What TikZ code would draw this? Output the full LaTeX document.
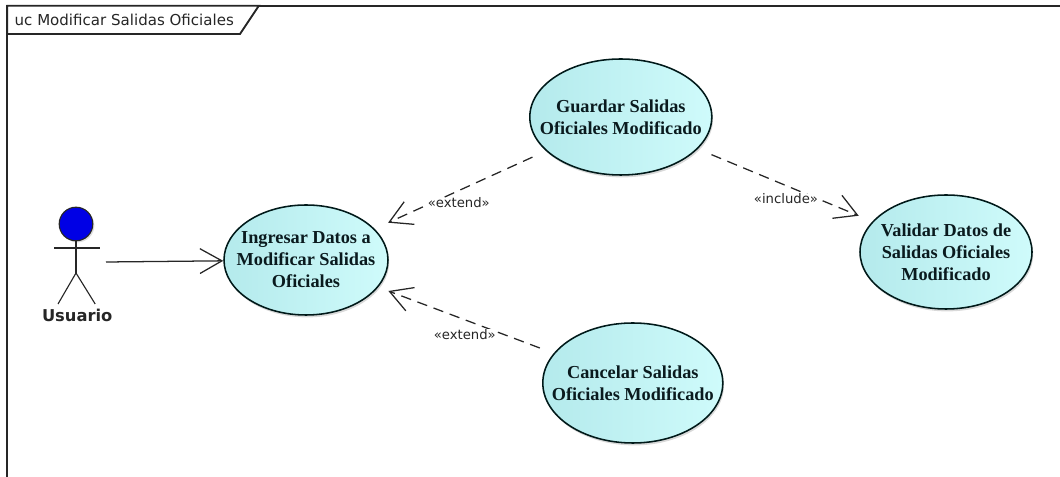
\documentclass[tikz,border=0pt]{standalone}
\usepackage{fontspec}
\setmainfont{Liberation Serif}
\newfontfamily\umlfont{DejaVu Sans}
\usetikzlibrary{shapes.geometric, arrows.meta, shadows}
\definecolor{ucleft}{HTML}{B4EAEC}
\definecolor{ucright}{HTML}{CFFBFB}
\definecolor{uctext}{HTML}{0A1A1E}
\tikzset{
  usecase/.style={ellipse, draw=black!80!teal, line width=1.1pt, left color=ucleft, right color=ucright,
    inner xsep=-0.7cm, inner ysep=0pt, align=center, text=uctext, font=\fontsize{13}{15.6}\selectfont\bfseries,
    drop shadow={shadow xshift=0.03cm, shadow yshift=-0.06cm, opacity=0.3}},
  stereo/.style={font=\umlfont\fontsize{9.4}{11}\selectfont, text=black!85, inner sep=0pt, fill=white},
  assoc/.style={line width=0.9pt, black!85, -{Straight Barb[length=0.55cm, width=0.62cm]}},
  depend/.style={assoc, dash pattern=on 0.26cm off 0.17cm, shorten >=0.37cm, shorten <=0.37cm}
}
\begin{document}
\begin{tikzpicture}
\useasboundingbox (0,0) rectangle (26.5,11.925);
% frame
\draw[line width=1.3pt, black!85] (0.18,0) -- (0.18,11.78) -- (26.5,11.78);
\draw[line width=1.3pt, black!85, fill=white] (0.18,11.78) -- (6.47,11.78) -- (6,11.075) -- (0.18,11.075) -- cycle;
\node[anchor=west, inner sep=0pt, font=\umlfont\fontsize{10.7}{12}\selectfont, text=black!85] (frametitle) at (0.36,11.43) {uc Modificar Salidas Oficiales};
% actor
\draw[black!85, line width=0.8pt, fill=blue!90!black, drop shadow={shadow xshift=0.04cm, shadow yshift=-0.04cm, opacity=0.25}] (1.9,6.325) circle (0.42);
\draw[black!85, line width=0.8pt] (1.35,5.725) -- (2.5,5.725);
\draw[black!85, line width=0.8pt] (1.9,5.9) -- (1.9,5.1);
\draw[black!85, line width=0.8pt] (1.45,4.325) -- (1.9,5.1) -- (2.38,4.325);
\node[font=\umlfont\fontsize{11.6}{13}\selectfont\bfseries, text=black!85, inner sep=0pt] (usuario) at (1.93,4.05) {Usuario};
\coordinate (actorhand) at (2.65,5.375);
% use cases
\node[usecase, minimum width=4.1cm, minimum height=2.75cm] (ingresar) at (7.65,5.425) {Ingresar Datos a\\Modificar Salidas\\Oficiales};
\node[usecase, minimum width=4.55cm, minimum height=2.9cm] (guardar) at (15.52,9) {Guardar Salidas\\Oficiales Modificado};
\node[usecase, minimum width=4.5cm, minimum height=3cm] (cancelar) at (15.82,2.35) {Cancelar Salidas\\Oficiales Modificado};
\node[usecase, minimum width=4.3cm, minimum height=2.85cm] (validar) at (23.65,5.625) {Validar Datos de\\Salidas Oficiales\\Modificado};
% connectors
\draw[assoc] (actorhand) -- (ingresar);
\draw[depend] (guardar) -- (ingresar);
\draw[depend, shorten >=0.27cm] (cancelar) -- (ingresar);
\draw[depend] (guardar) -- (validar);
\node[stereo] (extendup) at (11.47,6.85) {«extend»};
\node[stereo] (extenddown) at (11.62,3.57) {«extend»};
\node[stereo] (includelbl) at (19.65,6.95) {«include»};
\end{tikzpicture}
\end{document}
